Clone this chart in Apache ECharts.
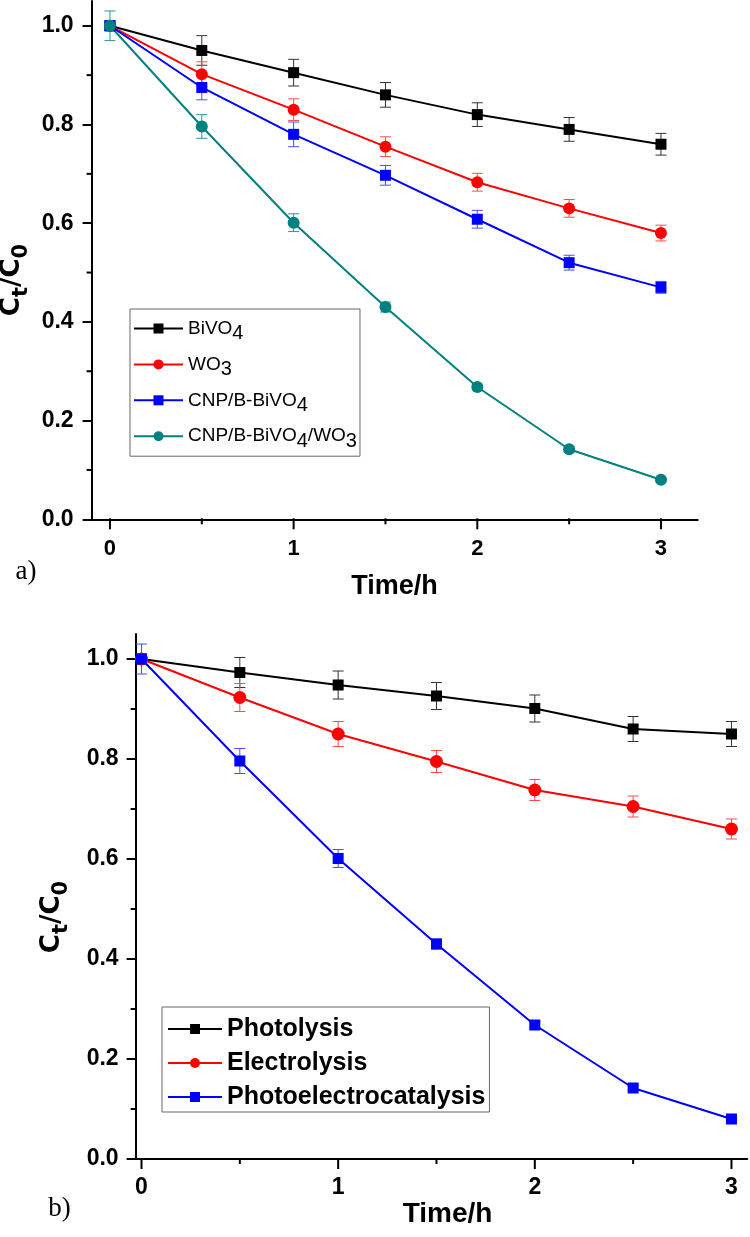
<!DOCTYPE html>
<html><head><meta charset="utf-8">
<script src="https://cdn.jsdelivr.net/npm/echarts@6/dist/echarts.min.js"></script>
<style>html,body{margin:0;padding:0;background:#fff}#c{width:750px;height:1237px}</style>
</head><body><div id="c"></div>
<script>
// ---------- data ----------
const timeH = [0, 0.5, 1, 1.5, 2, 2.5, 3];
const xMajorTicks = [0, 1, 2, 3];
const xMinorTicks = [0.5, 1.5, 2.5];
const yStep = 0.2;
const yMinorTicks = [0.1, 0.3, 0.5, 0.7, 0.9];

// chart a)
const bivo4      = [1.0, 0.950, 0.905, 0.860, 0.820, 0.790, 0.760];
const bivo4Err   = [0, 0.030, 0.027, 0.025, 0.024, 0.024, 0.022];
const wo3        = [1.0, 0.902, 0.830, 0.755, 0.683, 0.630, 0.580];
const wo3Err     = [0, 0.025, 0.022, 0.020, 0.018, 0.018, 0.016];
const cnpB       = [1.0, 0.875, 0.780, 0.697, 0.608, 0.520, 0.470];
const cnpBErr    = [0, 0.025, 0.025, 0.020, 0.018, 0.015, 0.012];
const cnpBW      = [1.0, 0.796, 0.601, 0.430, 0.268, 0.142, 0.080];
const cnpBWErr   = [0.030, 0.024, 0.018, 0.010, 0.006, 0.005, 0.004];

// chart b)
const photolysis    = [1.0, 0.973, 0.948, 0.926, 0.901, 0.860, 0.850];
const photolysisErr = [0, 0.030, 0.028, 0.027, 0.027, 0.025, 0.025];
const electro       = [1.0, 0.923, 0.850, 0.795, 0.738, 0.705, 0.660];
const electroErr    = [0, 0.028, 0.025, 0.022, 0.021, 0.021, 0.020];
const pec           = [1.0, 0.796, 0.601, 0.430, 0.268, 0.142, 0.080];
const pecErr        = [0.030, 0.025, 0.018, 0.010, 0.006, 0.005, 0.004];

const namesA = ['BiVO4', 'WO3', 'CNP/B-BiVO4', 'CNP/B-BiVO4/WO3'];
const namesB = ['Photolysis', 'Electrolysis', 'Photoelectrocatalysis'];

// ---------- helpers ----------
const SANS = 'Liberation Sans, Arial, Helvetica, sans-serif';
const WIDE = 'DejaVu Sans, Liberation Sans, Arial, sans-serif';
const SERIF = 'Liberation Serif, Times New Roman, serif';

function pairs(xs, ys) { return xs.map((x, i) => [x, ys[i]]); }
function triples(xs, ys, es) { return xs.map((x, i) => [x, ys[i], es[i]]); }

function errSeries(gi, xs, ys, es, color, capW) {
  return {
    type: 'custom', xAxisIndex: gi, yAxisIndex: gi, clip: false, silent: true, z: 1,
    data: triples(xs, ys, es),
    encode: { x: 0, y: 1 },
    renderItem: function (params, api) {
      const x = api.value(0), y = api.value(1), e = api.value(2);
      if (!e) return null;
      const t = api.coord([x, y + e]), b = api.coord([x, y - e]);
      const h = capW / 2;
      const st = { stroke: color, lineWidth: 1 };
      return { type: 'group', children: [
        { type: 'line', shape: { x1: t[0], y1: t[1], x2: b[0], y2: b[1] }, style: st },
        { type: 'line', shape: { x1: t[0] - h, y1: t[1], x2: t[0] + h, y2: t[1] }, style: st },
        { type: 'line', shape: { x1: b[0] - h, y1: b[1], x2: b[0] + h, y2: b[1] }, style: st }
      ]};
    }
  };
}
// axis tick marks placed through the axis scale: items are [value, length]
function tickSeries(gi, dim, majors, minors, majLen, minLen) {
  const items = majors.map(v => [v, majLen]).concat(minors.map(v => [v, minLen]));
  return {
    type: 'custom', xAxisIndex: gi, yAxisIndex: gi, clip: false, silent: true, z: 6,
    dimensions: ['tv', 'tl'],
    data: items,
    encode: dim === 'x' ? { x: 0 } : { y: 0 },
    renderItem: function (params, api) {
      const cs = params.coordSys;
      const v = api.value(0), len = api.value(1);
      const st = { stroke: '#000', lineWidth: 2 };
      if (dim === 'x') {
        const px = api.coord([v, 0])[0];
        const yb = cs.y + cs.height;
        return { type: 'line', shape: { x1: px, y1: yb - 1, x2: px, y2: yb + len }, style: st };
      }
      const py = api.coord([0, v])[1];
      return { type: 'line', shape: { x1: cs.x - len, y1: py, x2: cs.x + 1, y2: py }, style: st };
    }
  };
}
function lineSeries(gi, name, xs, ys, color, symbol, size) {
  return {
    type: 'line', name: name, xAxisIndex: gi, yAxisIndex: gi, z: 3,
    data: pairs(xs, ys), symbol: symbol, symbolSize: size, showAllSymbol: true,
    color: color, itemStyle: { color: color, opacity: 1 },
    lineStyle: { color: color, width: 2 }, clip: false
  };
}
function xAxisDef(gi, min, max, margin, fs) {
  return { type: 'value', gridIndex: gi, min: min, max: max, position: 'bottom',
    splitLine: { show: false },
    axisLine: { show: true, onZero: false, lineStyle: { color: '#000', width: 2 } },
    axisTick: { show: false },
    axisLabel: { show: true, customValues: xMajorTicks.slice(), margin: margin, color: '#000',
      fontFamily: SANS, fontWeight: 'bold', fontSize: fs, formatter: v => String(v) } };
}
function yAxisDef(gi, margin, fs) {
  return { type: 'value', gridIndex: gi, min: 0, max: 1.05, interval: yStep, position: 'left',
    splitLine: { show: false },
    axisLine: { show: true, onZero: false, lineStyle: { color: '#000', width: 2 } },
    axisTick: { show: true, length: 9, lineStyle: { color: '#000', width: 2 } },
    axisLabel: { show: true, showMaxLabel: false, margin: margin, color: '#000',
      fontFamily: SANS, fontWeight: 'bold', fontSize: fs,
      formatter: v => (v > 1.01 ? '' : v.toFixed(1)) } };
}

const richA = {
  m: { fontSize: 19, fontFamily: SANS, color: '#000', lineHeight: 30, verticalAlign: 'middle' },
  s: { fontSize: 20, fontFamily: SANS, color: '#000', lineHeight: 14, verticalAlign: 'bottom' }
};
function fmtA(name) {
  return name.replace(/([A-Za-z\/\-]+)(\d)?/g, function (all, txt, d) {
    return '{m|' + txt + '}' + (d ? '{s|' + d + '}' : '');
  });
}

const titleRich = {
  m: { fontSize: 26, fontFamily: WIDE, fontWeight: 'bold', fill: '#000', lineHeight: 40, verticalAlign: 'middle' },
  s: { fontSize: 21, fontFamily: WIDE, fontWeight: 'bold', fill: '#000', lineHeight: 13, verticalAlign: 'bottom' }
};

const chart = echarts.init(document.getElementById('c'), null, { renderer: 'canvas' });
chart.setOption({
  animation: false,
  backgroundColor: '#fff',
  grid: [
    { left: 91.6, top: 1.1, width: 606.1, height: 518.2, outerBoundsMode: 'none', containLabel: false },
    { left: 135.6, top: 634, width: 611.6, height: 525, outerBoundsMode: 'none', containLabel: false }
  ],
  xAxis: [
    xAxisDef(0, -0.1, 3.2, 19, 22),
    xAxisDef(1, -0.03, 3.08, 17, 23)
  ],
  yAxis: [
    yAxisDef(0, 18, 23),
    yAxisDef(1, 17, 23)
  ],
  legend: [
    { orient: 'vertical', left: 130, top: 309, data: namesA, itemWidth: 49, itemHeight: 12.5, itemGap: 11.4,
      padding: [10, 3, 5, 3], borderColor: '#666', borderWidth: 1, backgroundColor: '#fff', selectedMode: false,
      formatter: fmtA, textStyle: { fontSize: 19, fontFamily: SANS, color: '#000', rich: richA } },
    { orient: 'vertical', left: 162, top: 1007, data: namesB, itemWidth: 54, itemHeight: 12.5, itemGap: 4,
      padding: [7, 4, 0, 5], borderColor: '#666', borderWidth: 1, backgroundColor: '#fff', selectedMode: false,
      textStyle: { fontSize: 25, fontWeight: 'bold', fontFamily: SANS, color: '#000', lineHeight: 30 } }
  ],
  graphic: [
    { type: 'text', x: 12, y: 280, rotation: Math.PI / 2, z: 10,
      style: { text: '{m|C}{s|t}{m|/C}{s|0}', rich: titleRich, align: 'center', verticalAlign: 'middle' } },
    { type: 'text', x: 52, y: 917, rotation: Math.PI / 2, z: 10,
      style: { text: '{m|C}{s|t}{m|/C}{s|0}', rich: titleRich, align: 'center', verticalAlign: 'middle' } },
    { type: 'text', x: 394.5, y: 587, z: 10,
      style: { text: 'Time/h', font: 'bold 27px ' + SANS, fill: '#000', align: 'center', verticalAlign: 'middle' } },
    { type: 'text', x: 447.5, y: 1214, z: 10,
      style: { text: 'Time/h', font: 'bold 28px ' + SANS, fill: '#000', align: 'center', verticalAlign: 'middle' } },
    { type: 'text', x: 26, y: 572, z: 10,
      style: { text: 'a)', font: '27px ' + SERIF, fill: '#000', align: 'center', verticalAlign: 'middle' } },
    { type: 'text', x: 59.5, y: 1209, z: 10,
      style: { text: 'b)', font: '27px ' + SERIF, fill: '#000', align: 'center', verticalAlign: 'middle' } }
  ],
  series: [
    tickSeries(0, 'x', xMajorTicks, xMinorTicks, 10, 5),
    tickSeries(0, 'y', [], yMinorTicks, 9, 5),
    tickSeries(1, 'x', xMajorTicks, xMinorTicks, 10, 5),
    tickSeries(1, 'y', [], yMinorTicks, 9, 5),
    errSeries(0, timeH, bivo4, bivo4Err, '#333333', 11),
    errSeries(0, timeH, wo3, wo3Err, '#ff4a4a', 11),
    errSeries(0, timeH, cnpB, cnpBErr, '#4a4aff', 11),
    errSeries(0, timeH, cnpBW, cnpBWErr, '#2a9696', 11),
    lineSeries(0, namesA[0], timeH, bivo4, '#000000', 'rect', 11),
    lineSeries(0, namesA[1], timeH, wo3, '#ff0000', 'circle', 12),
    lineSeries(0, namesA[2], timeH, cnpB, '#0000ff', 'rect', 11),
    lineSeries(0, namesA[3], timeH, cnpBW, '#008080', 'circle', 12),
    errSeries(1, timeH, photolysis, photolysisErr, '#333333', 11),
    errSeries(1, timeH, electro, electroErr, '#ff4a4a', 11),
    errSeries(1, timeH, pec, pecErr, '#4a4aff', 11),
    lineSeries(1, namesB[0], timeH, photolysis, '#000000', 'rect', 11),
    lineSeries(1, namesB[1], timeH, electro, '#ff0000', 'circle', 13),
    lineSeries(1, namesB[2], timeH, pec, '#0000ff', 'rect', 11)
  ]
});
</script>
</body></html>
